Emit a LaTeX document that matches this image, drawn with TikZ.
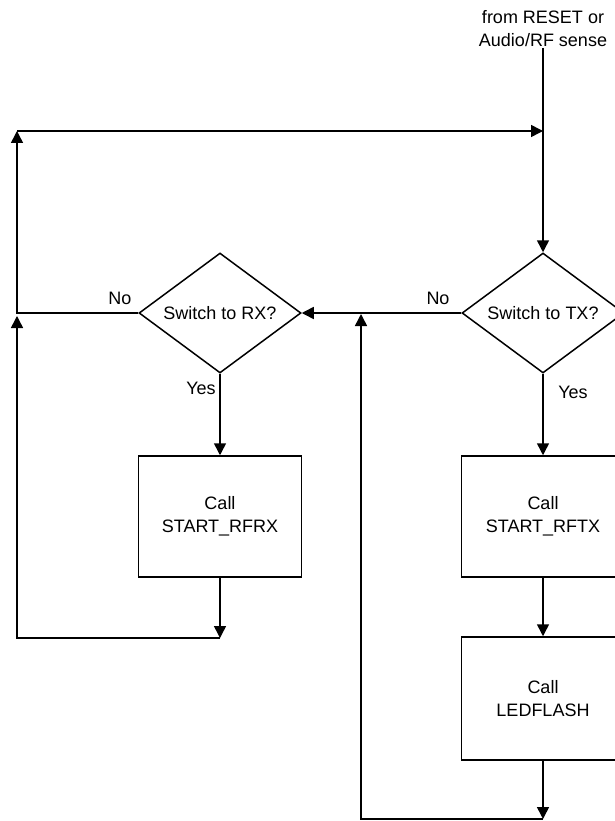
\documentclass[tikz,border=0pt]{standalone}
\usepackage{fontspec}
\setmainfont{Liberation Sans}
\usetikzlibrary{arrows.meta,positioning,shapes.geometric,calc}

\begin{document}
\begin{tikzpicture}[x=1pt,y=-1pt,line width=1.5pt,
  font=\fontsize{18}{23}\selectfont,
  >={Triangle[length=12pt,width=12pt]},
  decision/.style={draw,diamond,aspect=1.35,inner sep=0pt,minimum width=162pt,minimum height=120pt},
  callbox/.style={draw,rectangle,align=center,minimum width=163pt,minimum height=121pt}]
  \useasboundingbox (0,0) rectangle (615,821);
  \clip (0,0) rectangle (615,821);
  \node[align=center] (src) at (543,29) {from RESET or\\Audio/RF sense};
  \coordinate (srctop) at (543,48);
  \node[decision] (tx) at (543,313) {Switch to TX?};
  \node[decision] (rx) at (220,313) {Switch to RX?};
  \node[callbox] (rftx) at (543,516.5) {Call\\START\_RFTX};
  \node[callbox] (rfrx) at (220,516.5) {Call\\START\_RFRX};
  \node[callbox,minimum height=123pt] (led) at (543,698.5) {Call\\LEDFLASH};
  \coordinate (topleft) at (17,131);
  \coordinate (topright) at (543,131);
  \coordinate (nojoin) at (17,313);
  \coordinate (rxjoin) at (17,316);
  \coordinate (rxend) at (220,638);
  \coordinate (rxloop) at (17,638);
  \coordinate (ledend) at (543,819);
  \coordinate (txloop) at (361,819);
  \coordinate (txjoin) at (361,314);
  \draw (srctop) -- (topright);
  \draw[->] (topright) -- (tx.north);
  \draw[->] (tx.south) -- (rftx.north);
  \draw[->] (rftx) -- (led);
  \draw[->] (led.south) -- (ledend);
  \draw[->] (ledend) -- (txloop) -- (txjoin);
  \draw[->] (tx.west) -- (rx.east);
  \draw[->] (rx.south) -- (rfrx.north);
  \draw[->] (rfrx.south) -- (rxend);
  \draw[->] (rxend) -- (rxloop) -- (rxjoin);
  \draw[->] (rx.west) -- (nojoin) -- (topleft);
  \draw[->] (topleft) -- (topright);
  \node[anchor=base] (rxno) at (120,304) {No};
  \node[anchor=base] (txno) at (438,304) {No};
  \node[anchor=base] (txyes) at (573,398) {Yes};
  \node[anchor=base] (rxyes) at (201,394) {Yes};
\end{tikzpicture}
\end{document}
